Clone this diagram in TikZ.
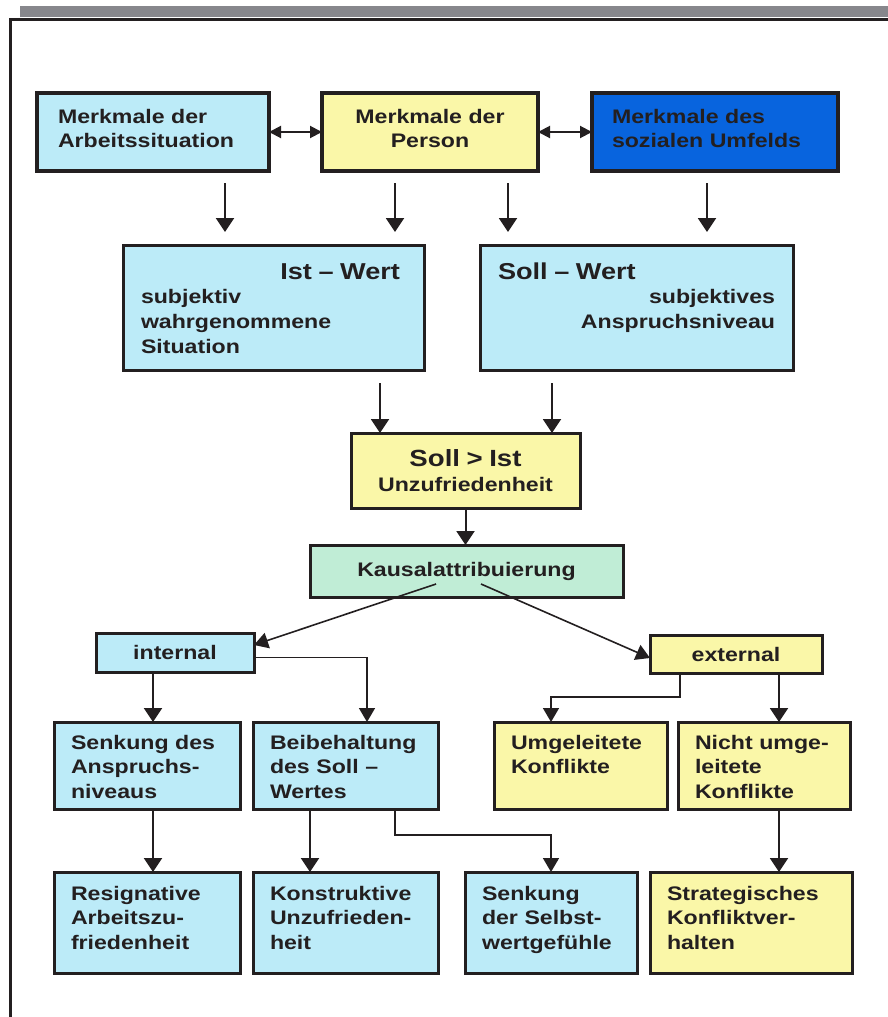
\documentclass[tikz,border=0pt]{standalone}
\usepackage{fontspec}
\setmainfont{Liberation Sans}[FakeStretch=1.18]
\usetikzlibrary{arrows.meta}

\definecolor{boxline}{RGB}{35,31,32}
\definecolor{lightcyan}{RGB}{188,235,248}
\definecolor{paleyellow}{RGB}{250,247,168}
\definecolor{strongblue}{RGB}{8,100,222}
\definecolor{mint}{RGB}{192,237,214}
\definecolor{shadowgray}{RGB}{135,135,140}

\tikzset{
	box/.style={draw=boxline, line width=1.5pt, anchor=north west, outer sep=0pt, inner xsep=8.5pt, inner ysep=4pt, align=left, text=boxline, font=\fontsize{9.8}{12.4}\selectfont\bfseries},
	toprow/.style={box, line width=2pt, text height=11pt, text depth=20pt},
	wertrow/.style={box, inner xsep=9pt, text height=13pt, text depth=41.5pt},
	midrow/.style={box, text height=9.5pt, text depth=26pt},
	lowrow/.style={box, text height=10pt, text depth=32.5pt},
	downarrow/.style={draw=boxline, line width=1pt, -{Triangle[length=7pt,width=9pt]}},
	thinarrow/.style={draw=boxline, line width=0.8pt, -{Triangle[length=7pt,width=8pt]}},
	twoway/.style={draw=boxline, line width=1pt, {Triangle[length=6pt,width=6pt]}-{Triangle[length=6pt,width=6pt]}}
}

\begin{document}
\begin{tikzpicture}[x=0.5pt,y=-0.5pt]
	\useasboundingbox (0,0) rectangle (888,1017);
	\fill[shadowgray] (20,6) rectangle (888,17);
	\draw[boxline, line width=1.5pt] (888,19) -- (10,19) -- (10,1017);

	\node[toprow, fill=lightcyan, inner xsep=10.5pt, text width=95pt] (arbeit) at (37,93) {Merkmale der\\Arbeitssituation};
	\node[toprow, fill=paleyellow, align=center, text width=91pt] (person) at (322,93) {Merkmale der\\Person};
	\node[toprow, fill=strongblue, inner xsep=10pt, text width=103pt] (umfeld) at (592,93) {Merkmale des\\sozialen Umfelds};

	\node[wertrow, fill=lightcyan, text width=132.5pt] (ist) at (123,245) {\mbox{}\hfill{\fontsize{11.5}{12.4}\selectfont Ist – Wert}\kern3pt\\subjektiv\\wahrgenommene\\Situation};
	\node[wertrow, fill=lightcyan, text width=138.5pt] (soll) at (480,245) {{\fontsize{11.5}{12.4}\selectfont Soll – Wert}\\\mbox{}\hfill subjektives\\\mbox{}\hfill Anspruchsniveau};

	\node[box, fill=paleyellow, align=center, text width=97.5pt, minimum height=37.5pt] (vergleich) at (351,433) {{\fontsize{11.7}{12.4}\selectfont Soll > Ist}\\Unzufriedenheit};
	\node[box, fill=mint, align=center, text width=139.5pt, minimum height=26pt] (kausal) at (310,545) {Kausalattribuierung};

	\node[box, fill=lightcyan, align=center, text width=62pt, minimum height=19.5pt] (internal) at (96,633) {internal};
	\node[box, fill=paleyellow, align=center, text width=69pt, minimum height=19pt] (external) at (650,635) {external};

	\node[midrow, fill=lightcyan, text width=76pt] (senkung) at (54,722) {Senkung des\\Anspruchs-\\niveaus};
	\node[midrow, fill=lightcyan, text width=75.5pt] (beibehalt) at (253,722) {Beibehaltung\\des Soll –\\Wertes};
	\node[midrow, fill=paleyellow, text width=69.5pt] (umgeleitet) at (494,722) {Umgeleitete\\Konflikte};
	\node[midrow, fill=paleyellow, text width=69pt] (nichtumg) at (678,722) {Nicht umge-\\leitete\\Konflikte};

	\node[lowrow, fill=lightcyan, text width=76pt] (resignativ) at (54,872) {Resignative\\Arbeitszu-\\friedenheit};
	\node[lowrow, fill=lightcyan, text width=75.5pt] (konstruktiv) at (253,872) {Konstruktive\\Unzufrieden-\\heit};
	\node[lowrow, fill=lightcyan, text width=69pt] (selbstwert) at (465,872) {Senkung\\der Selbst-\\wertgefühle};
	\node[lowrow, fill=paleyellow, text width=84pt] (strategie) at (650,872) {Strategisches\\Konfliktver-\\halten};

	\coordinate (col153) at (153,0);
	\coordinate (col225) at (225,0);
	\coordinate (col310) at (310,0);
	\coordinate (col367) at (367,0);
	\coordinate (col380) at (380,0);
	\coordinate (col395) at (395,0);
	\coordinate (col508) at (508,0);
	\coordinate (col551) at (551,0);
	\coordinate (col552) at (552,0);
	\coordinate (col680) at (680,0);
	\coordinate (col707) at (707,0);
	\coordinate (col779) at (779,0);

	\draw[twoway] (arbeit.east) -- (person.west);
	\draw[twoway] (person.east) -- (umfeld.west);

	\draw[downarrow, shorten <=6pt, shorten >=6.5pt] (arbeit.south -| col225) -- (ist.north -| col225);
	\draw[downarrow, shorten <=6pt, shorten >=6.5pt] (person.south -| col395) -- (ist.north -| col395);
	\draw[downarrow, shorten <=6pt, shorten >=6.5pt] (person.south -| col508) -- (soll.north -| col508);
	\draw[downarrow, shorten <=6pt, shorten >=6.5pt] (umfeld.south -| col707) -- (soll.north -| col707);

	\draw[downarrow, shorten <=6.5pt] (ist.south -| col380) -- (vergleich.north -| col380);
	\draw[downarrow, shorten <=6.5pt] (soll.south -| col552) -- (vergleich.north -| col552);
	\draw[downarrow] (vergleich.south) -- (vergleich.south |- kausal.north);

	\draw[thinarrow] ([shift={(-15.25pt,6.5pt)}]kausal.south) -- ([yshift=-6pt]internal.north east);
	\draw[thinarrow] ([shift={(7.25pt,6.5pt)}]kausal.south) -- ([yshift=-2pt]external.west);

	\draw[downarrow] (internal.south -| col153) -- (senkung.north -| col153);
	\draw[thinarrow] ([yshift=-2.5pt]internal.east) -| (beibehalt.north -| col367);
	\draw[thinarrow] (external.south -| col680) -- ++(0,24) -| (umgeleitet.north -| col551);
	\draw[downarrow] (external.south -| col779) -- (nichtumg.north -| col779);

	\draw[downarrow] (senkung.south -| col153) -- (resignativ.north -| col153);
	\draw[downarrow] (beibehalt.south -| col310) -- (konstruktiv.north -| col310);
	\draw[thinarrow] (beibehalt.south -| col395) -- ++(0,26) -| (selbstwert.north);
	\draw[downarrow] (nichtumg.south -| col779) -- (strategie.north -| col779);
\end{tikzpicture}
\end{document}
